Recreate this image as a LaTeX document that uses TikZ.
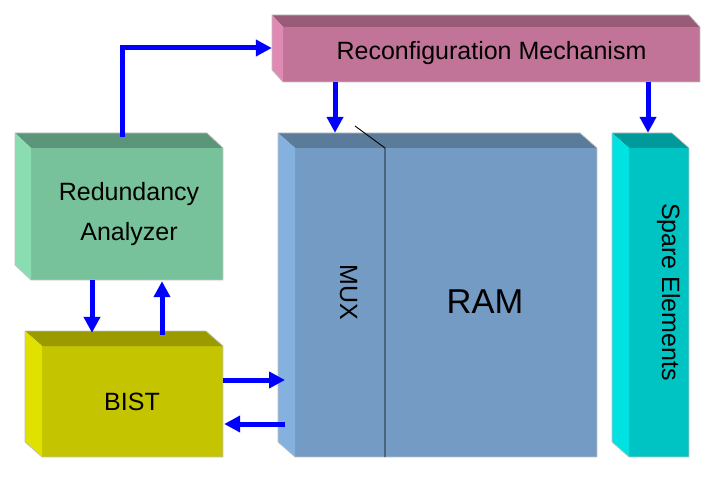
\documentclass[tikz,border=0pt]{standalone}
\usepackage{fontspec}
\setmainfont{Liberation Sans}
\usetikzlibrary{arrows.meta,fit}
\definecolor{arrowblue}{HTML}{0000FF}
\definecolor{rmF}{HTML}{C17497}\definecolor{rmT}{HTML}{995C78}\definecolor{rmL}{HTML}{E08AB3}
\definecolor{raF}{HTML}{77C29A}\definecolor{raT}{HTML}{5C967A}\definecolor{raL}{HTML}{8ADDB1}
\definecolor{biF}{HTML}{C4C400}\definecolor{biT}{HTML}{9B9B00}\definecolor{biL}{HTML}{E1E100}
\definecolor{ramF}{HTML}{739BC3}\definecolor{ramT}{HTML}{5B7B9B}\definecolor{ramL}{HTML}{84B1DE}
\definecolor{spF}{HTML}{00C4C4}\definecolor{spT}{HTML}{009A9A}\definecolor{spL}{HTML}{00E1E1}
\newcommand\bevelbox[9]{%
  \fill[#7] (#1+#5,#2+#6) rectangle (#3,#4);
  \fill[#8] (#1,#2) -- (#3-#5,#2) -- (#3,#2+#6) -- (#1+#5,#2+#6) -- cycle;
  \fill[#9] (#1,#2) -- (#1+#5,#2+#6) -- (#1+#5,#4) -- (#1,#4-#6) -- cycle;
  \draw[black!25, line width=0.7pt, line join=round] (#1,#2) -- (#3-#5,#2) -- (#3,#2+#6) -- (#3,#4) -- (#1+#5,#4) -- (#1,#4-#6) -- cycle;
}
\begin{document}
\begin{tikzpicture}[x=1pt,y=-1pt,
  arr/.style={draw=arrowblue, line width=5pt, -{Triangle[length=16pt,width=16pt]}},
  lbl/.style={font=\fontsize{25}{40}\selectfont, inner sep=0, align=center},
  area/.style={inner sep=0}]
\useasboundingbox (0,0) rectangle (725,481);
% boxes
\bevelbox{272}{15}{700}{82}{11}{12}{rmF}{rmT}{rmL}
\bevelbox{15}{133}{223}{280}{16}{15}{raF}{raT}{raL}
\bevelbox{25}{331}{223}{457}{17}{15}{biF}{biT}{biL}
\bevelbox{278}{133}{597}{457}{17}{15}{ramF}{ramT}{ramL}
\bevelbox{612}{133}{689}{457}{17}{15}{spF}{spT}{spL}
\node[area, fit={(272,15)(700,82)}] (rm) {};
\node[area, fit={(15,133)(223,280)}] (ra) {};
\node[area, fit={(25,331)(223,457)}] (bist) {};
\node[area, fit={(278,133)(597,457)}] (ram) {};
\node[area, fit={(612,133)(689,457)}] (spare) {};
% MUX divider
\coordinate (divtop) at (355,126);
\coordinate (divbend) at (385,148);
\coordinate (divx) at (385,0);
\draw[black, line width=0.9pt] (ram.south -| divx) -- (divbend) -- (divtop);
% labels
\node[lbl] (rmtext) at (491.5,53.5) {Reconfiguration Mechanism};
\node[lbl] (ratext) at (129,214) {Redundancy\\Analyzer};
\node[lbl] (bisttext) at (132,401.5) {BIST};
\node[lbl, font=\fontsize{34.5}{40}\selectfont, anchor=base] (ramtext) at (485,313) {RAM};
\node[lbl, rotate=-90, anchor=base] (muxtext) at (340,292) {MUX};
\node[lbl, rotate=-90, anchor=base] (sparetext) at (662,292) {Spare Elements};
% arrow guides
\coordinate (c122) at (122,48);
\coordinate (c335) at (335,0);
\coordinate (c648) at (648,0);
\coordinate (c92) at (92,0);
\coordinate (c162) at (162,0);
\coordinate (r380) at (285,380);
\coordinate (r424) at (285,424);
% arrows
\draw[arr, line join=miter] ([yshift=-4pt]ra.north -| c122) -- (c122) -- (rm.west |- c122);
\draw[arr] (rm.south -| c335) -- (ram.north -| c335);
\draw[arr] (rm.south -| c648) -- (spare.north -| c648);
\draw[arr] (ra.south -| c92) -- ([yshift=-2pt]bist.north -| c92);
\draw[arr] ([yshift=-4pt]bist.north -| c162) -- ([yshift=-1pt]ra.south -| c162);
\draw[arr] (bist.east |- r380) -- (r380);
\draw[arr] (r424) -- ([xshift=1pt]bist.east |- r424);
\end{tikzpicture}
\end{document}
